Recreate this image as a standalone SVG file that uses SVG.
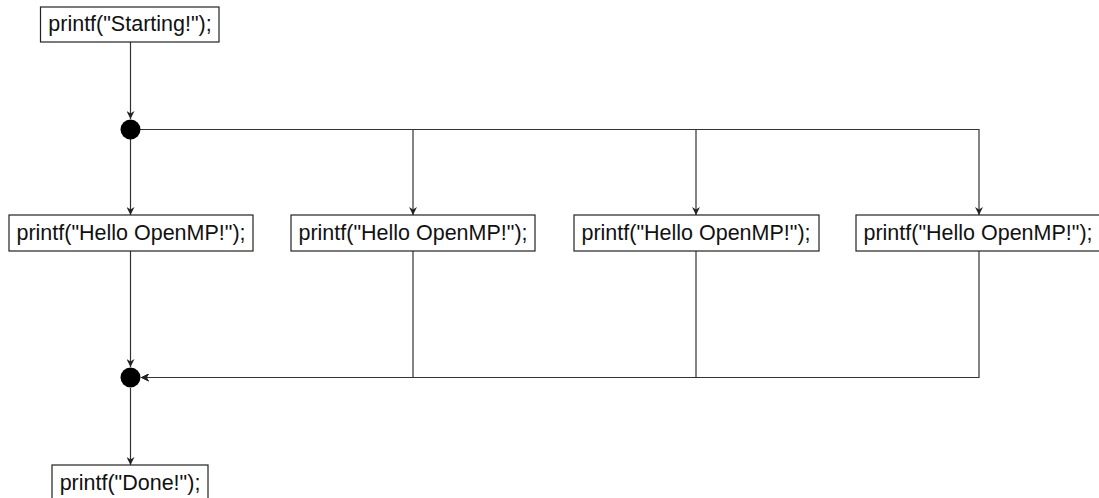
<svg xmlns="http://www.w3.org/2000/svg" width="1099" height="498" viewBox="0 0 1099 498">
<style>
.box{fill:#fff;stroke:#222;stroke-width:1.2}
.lbl{font-family:"Liberation Sans",Arial,sans-serif;font-size:21.5px;fill:#111;text-anchor:middle}
.c{fill:none;stroke:#333;stroke-width:1.2}
.dot{fill:#000}
</style>
<defs>
<marker id="ah" viewBox="0 0 10 10" refX="10" refY="5" markerWidth="8" markerHeight="8" markerUnits="userSpaceOnUse" orient="auto">
<path d="M0,0 L10,5 L0,10 L3,5 Z" fill="#222"/>
</marker>
</defs>
<g id="connectors">
<path class="c" d="M130.5,42 V119" marker-end="url(#ah)"/>
<path class="c" d="M130.5,139 V215" marker-end="url(#ah)"/>
<path class="c" d="M140,129.5 H413 V215" marker-end="url(#ah)"/>
<path class="c" d="M140,129.5 H696 V215" marker-end="url(#ah)"/>
<path class="c" d="M140,129.5 H979 V215" marker-end="url(#ah)"/>
<path class="c" d="M130.5,251 V367" marker-end="url(#ah)"/>
<path class="c" d="M413,251 V377.5 H141" marker-end="url(#ah)"/>
<path class="c" d="M696,251 V377.5 H141" marker-end="url(#ah)"/>
<path class="c" d="M979,251 V377.5 H141" marker-end="url(#ah)"/>
<path class="c" d="M130.5,388 V465" marker-end="url(#ah)"/>
</g>
<g id="start">
<rect class="box" x="40.5" y="7" width="178.5" height="35"/>
<text class="lbl" x="130" y="31">printf("Starting!");</text>
</g>
<g id="fork">
<circle class="dot" cx="130.5" cy="129.5" r="10"/>
</g>
<g id="hello1">
<rect class="box" x="9" y="215" width="244" height="36"/>
<text class="lbl" x="131" y="240">printf("Hello OpenMP!");</text>
</g>
<g id="hello2">
<rect class="box" x="291" y="215" width="244" height="36"/>
<text class="lbl" x="413" y="240">printf("Hello OpenMP!");</text>
</g>
<g id="hello3">
<rect class="box" x="574" y="215" width="245" height="36"/>
<text class="lbl" x="696" y="240">printf("Hello OpenMP!");</text>
</g>
<g id="hello4">
<rect class="box" x="856" y="215" width="245" height="36"/>
<text class="lbl" x="978" y="240">printf("Hello OpenMP!");</text>
</g>
<g id="join">
<circle class="dot" cx="130.5" cy="377.5" r="10"/>
</g>
<g id="done">
<rect class="box" x="52" y="465" width="156" height="36"/>
<text class="lbl" x="130" y="490">printf("Done!");</text>
</g>
</svg>
